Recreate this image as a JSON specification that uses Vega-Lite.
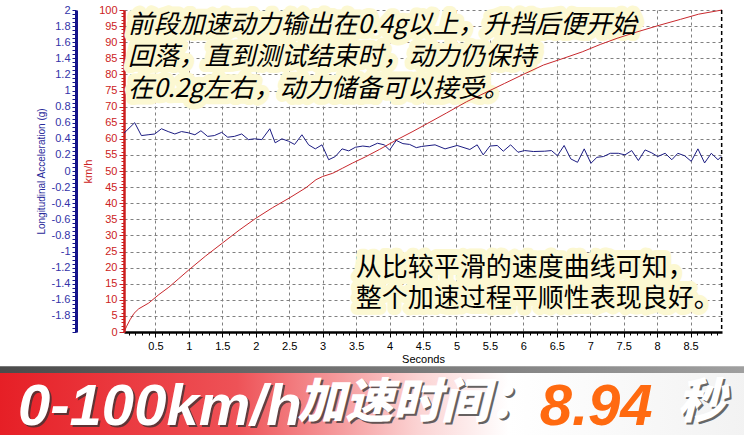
{
  "$schema": "https://vega.github.io/schema/vega-lite/v6.json",
  "width": 598,
  "height": 322,
  "autosize": {"type": "none"},
  "padding": {"left": 124, "top": 10, "right": 22, "bottom": 103},
  "background": "#ffffff",
  "config": {
    "view": {"stroke": null},
    "axis": {"labelFont": "Liberation Sans", "titleFont": "Liberation Sans", "titleFontWeight": "normal"}
  },
  "datasets": {
    "speed": [
      {"t": 0.03, "kmh": 0}, {"t": 0.07, "kmh": 1.8}, {"t": 0.12, "kmh": 3.8}, {"t": 0.18, "kmh": 5.8},
      {"t": 0.25, "kmh": 7.2}, {"t": 0.4, "kmh": 9.0}, {"t": 0.55, "kmh": 11.6}, {"t": 0.7, "kmh": 13.9},
      {"t": 0.85, "kmh": 16.6}, {"t": 1.0, "kmh": 19.3}, {"t": 1.25, "kmh": 23.6}, {"t": 1.5, "kmh": 27.6},
      {"t": 1.75, "kmh": 31.6}, {"t": 2.0, "kmh": 35.3}, {"t": 2.25, "kmh": 38.6}, {"t": 2.5, "kmh": 41.6},
      {"t": 2.75, "kmh": 44.8}, {"t": 2.9, "kmh": 47.3}, {"t": 3.0, "kmh": 48.3}, {"t": 3.15, "kmh": 49.3},
      {"t": 3.3, "kmh": 50.9}, {"t": 3.45, "kmh": 52.5}, {"t": 3.64, "kmh": 54.4}, {"t": 3.85, "kmh": 56.7},
      {"t": 4.1, "kmh": 59.6}, {"t": 4.35, "kmh": 62.3}, {"t": 4.57, "kmh": 64.8}, {"t": 4.85, "kmh": 68.0},
      {"t": 5.15, "kmh": 71.5}, {"t": 5.45, "kmh": 74.5}, {"t": 5.72, "kmh": 77.2}, {"t": 6.0, "kmh": 80.0},
      {"t": 6.3, "kmh": 82.9}, {"t": 6.6, "kmh": 85.0}, {"t": 6.88, "kmh": 87.0}, {"t": 7.15, "kmh": 89.3},
      {"t": 7.4, "kmh": 91.2}, {"t": 7.7, "kmh": 93.2}, {"t": 8.04, "kmh": 95.3}, {"t": 8.35, "kmh": 97.1},
      {"t": 8.62, "kmh": 98.7}, {"t": 8.97, "kmh": 100}
    ],
    "accel": [
      {"t": 0.03, "g": 0.47}, {"t": 0.19, "g": 0.6}, {"t": 0.29, "g": 0.44}, {"t": 0.39, "g": 0.45},
      {"t": 0.49, "g": 0.46}, {"t": 0.59, "g": 0.525}, {"t": 0.69, "g": 0.49}, {"t": 0.79, "g": 0.46},
      {"t": 0.89, "g": 0.49}, {"t": 0.99, "g": 0.475}, {"t": 1.09, "g": 0.45}, {"t": 1.18, "g": 0.5},
      {"t": 1.28, "g": 0.43}, {"t": 1.38, "g": 0.44}, {"t": 1.49, "g": 0.48}, {"t": 1.58, "g": 0.42},
      {"t": 1.68, "g": 0.43}, {"t": 1.79, "g": 0.46}, {"t": 1.89, "g": 0.39}, {"t": 1.98, "g": 0.4},
      {"t": 2.09, "g": 0.39}, {"t": 2.21, "g": 0.525}, {"t": 2.29, "g": 0.35}, {"t": 2.39, "g": 0.4},
      {"t": 2.49, "g": 0.37}, {"t": 2.58, "g": 0.33}, {"t": 2.69, "g": 0.45}, {"t": 2.79, "g": 0.325},
      {"t": 2.89, "g": 0.275}, {"t": 2.99, "g": 0.325}, {"t": 3.09, "g": 0.14}, {"t": 3.19, "g": 0.18},
      {"t": 3.29, "g": 0.275}, {"t": 3.39, "g": 0.25}, {"t": 3.49, "g": 0.295}, {"t": 3.6, "g": 0.31},
      {"t": 3.7, "g": 0.3}, {"t": 3.82, "g": 0.345}, {"t": 3.92, "g": 0.325}, {"t": 4.0, "g": 0.26},
      {"t": 4.1, "g": 0.38}, {"t": 4.2, "g": 0.34}, {"t": 4.3, "g": 0.33}, {"t": 4.4, "g": 0.29},
      {"t": 4.48, "g": 0.305}, {"t": 4.68, "g": 0.325}, {"t": 4.83, "g": 0.275}, {"t": 5.01, "g": 0.317},
      {"t": 5.2, "g": 0.267}, {"t": 5.31, "g": 0.325}, {"t": 5.4, "g": 0.2}, {"t": 5.5, "g": 0.31},
      {"t": 5.61, "g": 0.317}, {"t": 5.7, "g": 0.246}, {"t": 5.81, "g": 0.325}, {"t": 5.92, "g": 0.233},
      {"t": 6.02, "g": 0.254}, {"t": 6.15, "g": 0.242}, {"t": 6.32, "g": 0.246}, {"t": 6.42, "g": 0.254},
      {"t": 6.51, "g": 0.19}, {"t": 6.61, "g": 0.317}, {"t": 6.71, "g": 0.15}, {"t": 6.81, "g": 0.108},
      {"t": 6.91, "g": 0.275}, {"t": 7.01, "g": 0.096}, {"t": 7.1, "g": 0.17}, {"t": 7.2, "g": 0.18},
      {"t": 7.3, "g": 0.22}, {"t": 7.42, "g": 0.22}, {"t": 7.52, "g": 0.2}, {"t": 7.62, "g": 0.254},
      {"t": 7.72, "g": 0.13}, {"t": 7.82, "g": 0.262}, {"t": 7.92, "g": 0.225}, {"t": 8.01, "g": 0.18},
      {"t": 8.12, "g": 0.22}, {"t": 8.22, "g": 0.14}, {"t": 8.31, "g": 0.22}, {"t": 8.41, "g": 0.19},
      {"t": 8.51, "g": 0.12}, {"t": 8.61, "g": 0.275}, {"t": 8.71, "g": 0.1}, {"t": 8.81, "g": 0.22},
      {"t": 8.91, "g": 0.14}, {"t": 8.96, "g": 0.18}
    ]
  },
  "layer": [
    {
      "layer": [
        {
          "data": {"values": [{}]},
          "mark": {"type": "rect", "color": {"gradient": "linear", "x1": 0, "y1": 0, "x2": 1, "y2": 0, "stops": [{"offset": 0, "color": "#4a4a4a"}, {"offset": 1, "color": "#a0a0a0"}]}},
          "encoding": {
            "x": {"datum": -1.9, "type": "quantitative", "scale": {"domain": [0.03, 8.97], "nice": false, "zero": false}},
            "x2": {"datum": 9.4},
            "y": {"datum": -10.6, "type": "quantitative", "scale": {"domain": [0, 100], "nice": false}},
            "y2": {"datum": -12.75}
          }
        },
        {
          "data": {"values": [{}]},
          "mark": {"type": "rect", "color": {"gradient": "linear", "x1": 0, "y1": 0, "x2": 1, "y2": 0, "stops": [{"offset": 0, "color": "#e61e25"}, {"offset": 0.32, "color": "#ee5257"}, {"offset": 0.56, "color": "#fbd3d3"}, {"offset": 0.68, "color": "#ffffff"}, {"offset": 1, "color": "#f2f2f2"}]}},
          "encoding": {
            "x": {"datum": -1.9, "type": "quantitative"},
            "x2": {"datum": 9.4},
            "y": {"datum": -12.75, "type": "quantitative"},
            "y2": {"datum": -34}
          }
        },
        {
          "data": {"values": [{}]},
          "mark": {"type": "text", "text": "0-100km/h", "font": "Liberation Sans", "fontSize": 58, "fontWeight": "bold", "fontStyle": "italic", "align": "left", "baseline": "alphabetic", "fill": "#333333", "opacity": 0.75, "dx": 2, "dy": 2},
          "encoding": {"x": {"datum": -1.554, "type": "quantitative"}, "y": {"datum": -28.88, "type": "quantitative"}}
        },
        {
          "data": {"values": [{}]},
          "mark": {"type": "text", "text": "0-100km/h", "font": "Liberation Sans", "fontSize": 58, "fontWeight": "bold", "fontStyle": "italic", "align": "left", "baseline": "alphabetic", "fill": "#ffffff"},
          "encoding": {"x": {"datum": -1.554, "type": "quantitative"}, "y": {"datum": -28.88, "type": "quantitative"}}
        },
        {
          "data": {"values": [{}]},
          "mark": {"type": "text", "text": "加速时间：", "font": "Noto Sans CJK SC", "fontSize": 48, "fontWeight": 900, "fontStyle": "italic", "align": "left", "baseline": "middle", "fill": "#333333", "opacity": 0.75, "dx": 2, "dy": 2},
          "encoding": {"x": {"datum": 2.62, "type": "quantitative"}, "y": {"datum": -22.36, "type": "quantitative"}}
        },
        {
          "data": {"values": [{}]},
          "mark": {"type": "text", "text": "加速时间：", "font": "Noto Sans CJK SC", "fontSize": 48, "fontWeight": 900, "fontStyle": "italic", "align": "left", "baseline": "middle", "fill": "#ffffff"},
          "encoding": {"x": {"datum": 2.62, "type": "quantitative"}, "y": {"datum": -22.36, "type": "quantitative"}}
        },
        {
          "data": {"values": [{}]},
          "mark": {"type": "text", "text": "8.94", "font": "Liberation Sans", "fontSize": 58, "fontWeight": "bold", "fontStyle": "italic", "align": "left", "baseline": "alphabetic", "fill": "#ff6a10"},
          "encoding": {"x": {"datum": 6.244, "type": "quantitative"}, "y": {"datum": -28.88, "type": "quantitative"}}
        },
        {
          "data": {"values": [{}]},
          "mark": {"type": "text", "text": "秒", "font": "Noto Sans CJK SC", "fontSize": 48, "fontWeight": 900, "fontStyle": "italic", "align": "left", "baseline": "middle", "fill": "#444444", "opacity": 0.8, "dx": 2, "dy": 2},
          "encoding": {"x": {"datum": 8.3, "type": "quantitative"}, "y": {"datum": -22.36, "type": "quantitative"}}
        },
        {
          "data": {"values": [{}]},
          "mark": {"type": "text", "text": "秒", "font": "Noto Sans CJK SC", "fontSize": 48, "fontWeight": 900, "fontStyle": "italic", "align": "left", "baseline": "middle", "fill": "#ffffff"},
          "encoding": {"x": {"datum": 8.3, "type": "quantitative"}, "y": {"datum": -22.36, "type": "quantitative"}}
        },
        {
          "data": {"values": [{}]},
          "mark": {"type": "text", "text": "前段加速动力输出在0.4g以上，升挡后便开始", "font": "Noto Sans CJK SC", "fontSize": 25.5, "fontStyle": "italic", "align": "left", "baseline": "middle", "fill": "#fcf8d2", "stroke": "#fcf8d2", "strokeWidth": 12, "strokeJoin": "round"},
          "encoding": {"x": {"datum": 0.089, "type": "quantitative"}, "y": {"datum": 95.34, "type": "quantitative"}}
        },
        {
          "data": {"values": [{}]},
          "mark": {"type": "text", "text": "回落，直到测试结束时，动力仍保持", "font": "Noto Sans CJK SC", "fontSize": 25.5, "fontStyle": "italic", "align": "left", "baseline": "middle", "fill": "#fcf8d2", "stroke": "#fcf8d2", "strokeWidth": 12, "strokeJoin": "round"},
          "encoding": {"x": {"datum": 0.089, "type": "quantitative"}, "y": {"datum": 85.4, "type": "quantitative"}}
        },
        {
          "data": {"values": [{}]},
          "mark": {"type": "text", "text": "在0.2g左右，动力储备可以接受。", "font": "Noto Sans CJK SC", "fontSize": 25.5, "fontStyle": "italic", "align": "left", "baseline": "middle", "fill": "#fcf8d2", "stroke": "#fcf8d2", "strokeWidth": 12, "strokeJoin": "round"},
          "encoding": {"x": {"datum": 0.089, "type": "quantitative"}, "y": {"datum": 75.47, "type": "quantitative"}}
        },
        {
          "data": {"values": [{}]},
          "mark": {"type": "text", "text": "从比较平滑的速度曲线可知，", "font": "Noto Sans CJK SC", "fontSize": 26, "align": "left", "baseline": "middle", "fill": "#fcf8d2", "stroke": "#fcf8d2", "strokeWidth": 12, "strokeJoin": "round"},
          "encoding": {"x": {"datum": 3.495, "type": "quantitative"}, "y": {"datum": 19.88, "type": "quantitative"}}
        },
        {
          "data": {"values": [{}]},
          "mark": {"type": "text", "text": "整个加速过程平顺性表现良好。", "font": "Noto Sans CJK SC", "fontSize": 26, "align": "left", "baseline": "middle", "fill": "#fcf8d2", "stroke": "#fcf8d2", "strokeWidth": 12, "strokeJoin": "round"},
          "encoding": {"x": {"datum": 3.495, "type": "quantitative"}, "y": {"datum": 10.25, "type": "quantitative"}}
        },
        {
          "data": {"name": "speed"},
          "mark": {"type": "line", "color": "#c8282d", "strokeWidth": 1},
          "encoding": {
            "x": {
              "field": "t", "type": "quantitative",
              "scale": {"domain": [0.03, 8.97], "nice": false, "zero": false},
              "axis": {
                "title": "Seconds", "titleFontSize": 11, "titleColor": "#000000", "titlePadding": 2,
                "tickCount": 90, "format": "~g",
                "labelExpr": "abs(datum.value*2-round(datum.value*2))<0.001 ? datum.label : ''",
                "labelOverlap": false, "labelFlush": false, "labelFontSize": 11, "labelColor": "#000000", "labelPadding": 3,
                "tickSize": {"condition": {"test": "abs(datum.value*2-round(datum.value*2))<0.001", "value": 5}, "value": 3},
                "tickColor": "#000000", "domainColor": "#000000", "domainWidth": 2.5,
                "grid": true, "gridColor": "#808080", "gridDash": [3, 3],
                "gridOpacity": {"condition": {"test": "abs(datum.value*2-round(datum.value*2))<0.001", "value": 1}, "value": 0}
              }
            },
            "y": {
              "field": "kmh", "type": "quantitative",
              "scale": {"domain": [0, 100], "nice": false},
              "axis": {
                "orient": "left", "title": "km/h", "titleColor": "#cc2222", "titleFontSize": 11, "titlePadding": 5,
                "tickCount": 100, "format": "d",
                "labelExpr": "datum.value % 5 === 0 ? datum.label : ''",
                "labelOverlap": false, "labelFlush": false, "labelColor": "#cc2222", "labelFontSize": 11, "labelPadding": 2,
                "tickSize": {"condition": {"test": "datum.value % 5 === 0", "value": 5}, "value": 3},
                "tickColor": "#cc1f1f", "domainColor": "#cc1f1f", "domainWidth": 2.5,
                "grid": true, "gridColor": "#808080", "gridDash": [3, 3],
                "gridOpacity": {"condition": {"test": "datum.value % 5 === 0 && datum.value > 0", "value": 1}, "value": 0}
              }
            }
          }
        },
        {
          "data": {"values": [{}]},
          "mark": {"type": "text", "text": "前段加速动力输出在0.4g以上，升挡后便开始", "font": "Noto Sans CJK SC", "fontSize": 25.5, "fontStyle": "italic", "align": "left", "baseline": "middle", "fill": "#000000"},
          "encoding": {"x": {"datum": 0.089, "type": "quantitative"}, "y": {"datum": 95.34, "type": "quantitative"}}
        },
        {
          "data": {"values": [{}]},
          "mark": {"type": "text", "text": "回落，直到测试结束时，动力仍保持", "font": "Noto Sans CJK SC", "fontSize": 25.5, "fontStyle": "italic", "align": "left", "baseline": "middle", "fill": "#000000"},
          "encoding": {"x": {"datum": 0.089, "type": "quantitative"}, "y": {"datum": 85.4, "type": "quantitative"}}
        },
        {
          "data": {"values": [{}]},
          "mark": {"type": "text", "text": "在0.2g左右，动力储备可以接受。", "font": "Noto Sans CJK SC", "fontSize": 25.5, "fontStyle": "italic", "align": "left", "baseline": "middle", "fill": "#000000"},
          "encoding": {"x": {"datum": 0.089, "type": "quantitative"}, "y": {"datum": 75.47, "type": "quantitative"}}
        },
        {
          "data": {"values": [{}]},
          "mark": {"type": "text", "text": "从比较平滑的速度曲线可知，", "font": "Noto Sans CJK SC", "fontSize": 26, "align": "left", "baseline": "middle", "fill": "#000000"},
          "encoding": {"x": {"datum": 3.495, "type": "quantitative"}, "y": {"datum": 19.88, "type": "quantitative"}}
        },
        {
          "data": {"values": [{}]},
          "mark": {"type": "text", "text": "整个加速过程平顺性表现良好。", "font": "Noto Sans CJK SC", "fontSize": 26, "align": "left", "baseline": "middle", "fill": "#000000"},
          "encoding": {"x": {"datum": 3.495, "type": "quantitative"}, "y": {"datum": 10.25, "type": "quantitative"}}
        },
        {
          "data": {"values": [{}]},
          "mark": {"type": "rule", "color": "#000000", "strokeDash": [4, 3], "strokeWidth": 1.5},
          "encoding": {"x": {"datum": 8.965, "type": "quantitative"}}
        }
      ]
    },
    {
      "layer": [
        {
          "data": {"name": "accel"},
          "mark": {"type": "line", "color": "#1c1c82", "strokeWidth": 1},
          "encoding": {
            "x": {"field": "t", "type": "quantitative"},
            "y": {
              "field": "g", "type": "quantitative",
              "scale": {"domain": [-2, 2], "nice": false, "zero": false},
              "axis": {
                "orient": "left", "offset": 48, "title": "Longitudinal Acceleration (g)", "titleColor": "#2a2a9a", "titleFontSize": 10, "titlePadding": 5,
                "tickCount": 80, "format": "~g",
                "labelExpr": "(abs(datum.value*5-round(datum.value*5))<0.001 && datum.value > -1.99) ? replace(datum.label, '−', '-') : ''",
                "labelOverlap": false, "labelFlush": false, "labelColor": "#3333a8", "labelFontSize": 11, "labelPadding": 2,
                "tickSize": 4, "tickColor": "#14148a", "domainColor": "#14148a", "domainWidth": 3, "grid": false
              }
            }
          }
        }
      ]
    }
  ],
  "resolve": {"scale": {"y": "independent"}, "axis": {"y": "independent"}}
}
